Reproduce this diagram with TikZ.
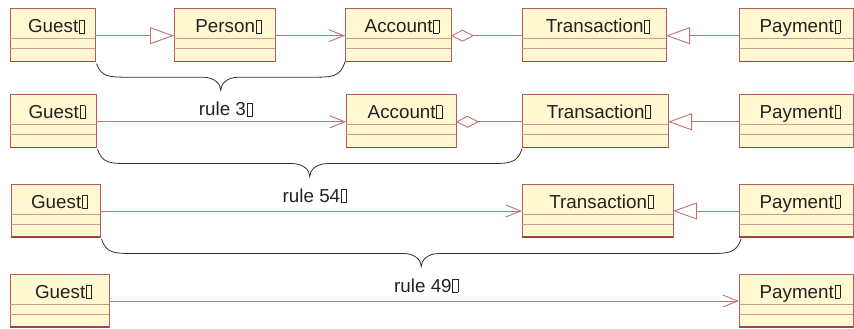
\documentclass[tikz,border=0pt]{standalone}
\usepackage{fontspec}
\setmainfont{Liberation Sans}
\usetikzlibrary{arrows.meta,calc}

\definecolor{clsfill}{HTML}{FFF8D0}
\definecolor{clsborder}{HTML}{B25E5E}
\definecolor{clsbottom}{HTML}{9E4545}
\definecolor{clsrule}{HTML}{CC9C94}
\definecolor{connc}{HTML}{BF7373}
\definecolor{inkc}{HTML}{222222}
\definecolor{bracec}{HTML}{303030}

% missing-glyph box printed after every name
\newcommand\nog{\kern0.8pt{\setlength\fboxsep{0pt}\setlength\fboxrule{0.7pt}\fbox{\rule{0pt}{12.4pt}\kern4.4pt}}}

\tikzset{
  clsbox/.style={draw=clsborder, fill=clsfill, line width=1pt, minimum height=53, inner sep=0pt, outer sep=0pt, anchor=north west},
  clsline/.style={draw=clsrule, line width=0.9pt},
  clsbase/.style={draw=clsbottom, line width=1.3pt},
  clstitle/.style={anchor=base, inner sep=0pt, text=inkc, font=\fontsize{18.8}{22}\selectfont},
  conn/.style={draw=connc, line width=0.9pt},
  gen/.style={conn, -{Triangle[open, length=24pt, width=17pt]}},
  nav/.style={conn, -{Straight Barb[length=15pt, width=12pt]}},
  agg/.style={conn, {Diamond[open, length=23pt, width=12pt]}-},
  bracepen/.style={draw=bracec, line width=0.8pt},
  rulelabel/.style={anchor=base, inner sep=0pt, text=inkc, font=\fontsize{18.8}{22}\selectfont},
}

% class box: name, left, top, width, title
\newcommand\umlclass[5]{%
  \node[clsbox, minimum width=#4] (#1) at (#2,#3) {};
  \draw[clsline] ([yshift=-30]#1.north west) -- ([yshift=-30]#1.north east);
  \draw[clsline] ([yshift=-40]#1.north west) -- ([yshift=-40]#1.north east);
  \draw[clsbase] (#1.south west) -- (#1.south east);
  \node[clstitle] (#1-name) at ([xshift=4,yshift=-24]#1.north) {#5\nog};
}

% curly brace under a chain: start, end, tip name, label
\newcommand\rulebrace[4]{%
  \coordinate (#3) at ($(#1)!0.5!(#2)+(0,27.5)$);
  \draw[bracepen] let \p1=(#1), \p2=(#2), \p3=(#3) in
    (\p1) .. controls (\x1+5pt,\y3+13pt) and (\x1+12pt,\y3+13pt) .. (\x1+34pt,\y3+13pt)
    -- (\x3-18pt,\y3+13pt) .. controls (\x3-6pt,\y3+13pt) and (\x3,\y3+6pt) .. (\p3)
    .. controls (\x3,\y3+6pt) and (\x3+6pt,\y3+13pt) .. (\x3+18pt,\y3+13pt)
    -- (\x2-34pt,\y3+13pt) .. controls (\x2-12pt,\y3+13pt) and (\x2-5pt,\y3+13pt) .. (\p2);
  \node[rulelabel] (#3-label) at ([shift={(5,25.5)}]#3) {#4};
}

\begin{document}
\begin{tikzpicture}[x=1pt, y=-1pt]
\useasboundingbox (0,0) rectangle (854,329);

% chain 1
\umlclass{g1}{10}{8.7}{85}{Guest}
\umlclass{p1}{174}{8.7}{101}{Person}
\umlclass{a1}{345}{8.7}{106}{Account}
\umlclass{t1}{522}{8.7}{144}{Transaction}
\umlclass{y1}{739}{8.7}{114}{Payment}
\draw[gen] ([yshift=-27]g1.north east) -- ([yshift=-27]p1.north west);
\draw[nav] ([yshift=-27]p1.north east) -- ([yshift=-27]a1.north west);
\draw[agg] ([yshift=-27]a1.north east) -- ([yshift=-27]t1.north west);
\draw[gen] ([yshift=-27]y1.north west) -- ([yshift=-27]t1.north east);

% chain 2
\umlclass{g2}{10}{94.3}{86}{Guest}
\umlclass{a2}{346}{94.3}{110}{Account}
\umlclass{t2}{522}{94.3}{146}{Transaction}
\umlclass{y2}{739}{94.3}{114}{Payment}
\draw[nav] ([yshift=-27.5]g2.north east) -- ([yshift=-27.5]a2.north west);
\draw[agg] ([yshift=-27.5]a2.north east) -- ([yshift=-27.5]t2.north west);
\draw[gen] ([yshift=-27.5]y2.north west) -- ([yshift=-27.5]t2.north east);

% chain 3
\umlclass{g3}{11}{184}{89}{Guest}
\umlclass{t3}{522}{184}{151}{Transaction}
\umlclass{y3}{739}{184}{114}{Payment}
\draw[nav] ([yshift=-27]g3.north east) -- ([yshift=-27]t3.north west);
\draw[gen] ([yshift=-27]y3.north west) -- ([yshift=-27]t3.north east);

% chain 4
\umlclass{g4}{10}{274}{99}{Guest}
\umlclass{y4}{739}{274}{114}{Payment}
\draw[nav] ([yshift=-27]g4.north east) -- ([yshift=-27]y4.north west);

% rewriting braces
\rulebrace{[shift={(1.5,2)}]g1.south east}{a1.south west}{r3}{rule 3\nog}
\rulebrace{[shift={(1.5,2)}]g2.south east}{[shift={(0,1.5)}]t2.south west}{r54}{rule 54\nog}
\rulebrace{[shift={(1.5,2)}]g3.south east}{[shift={(2,2)}]y3.south west}{r49}{rule 49\nog}
\end{tikzpicture}
\end{document}
